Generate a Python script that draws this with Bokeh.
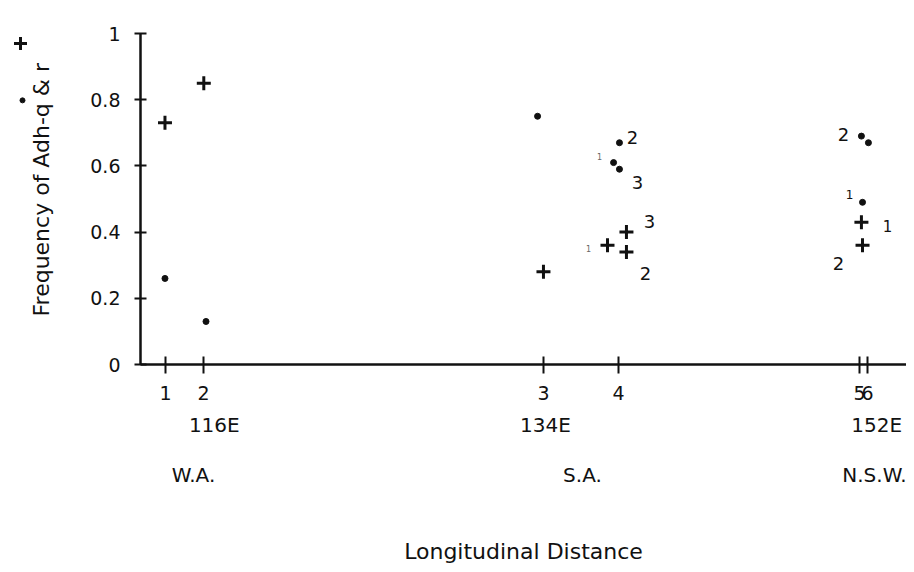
import math
from bokeh.plotting import figure
from bokeh.layouts import row
from bokeh.models import LinearAxis, FixedTicker, Range1d, ColumnDataSource
from bokeh.core.properties import value
from bokeh.embed import file_html
from bokeh.resources import INLINE

# ---------------- data ----------------
# collection sites along the x axis (longitude, degrees E)
site_labels = ["1", "2", "3", "4", "5", "6"]
site_lon = [113.35, 115.41, 133.89, 137.97, 151.07, 151.50]

lon_ticks = [116, 134, 152]
lon_labels = ["116E", "134E", "152E"]

region_lon = [114.87, 136.01, 151.99]
region_labels = ["W.A.", "S.A.", "N.S.W."]

# Adh-q frequencies (dots)
q_lon = [113.32, 115.55, 133.57, 138.02, 137.70, 138.02, 151.17, 151.55, 151.23]
q_freq = [0.26, 0.13, 0.75, 0.67, 0.61, 0.59, 0.69, 0.67, 0.49]
q_tag = ["", "", "", "2", "1", "3", "2", "", "1"]

# Adh-r frequencies (crosses)
r_lon = [113.32, 115.43, 133.89, 138.40, 137.37, 138.40, 151.17, 151.23]
r_freq = [0.73, 0.85, 0.28, 0.40, 0.36, 0.34, 0.43, 0.36]
r_tag = ["", "", "", "3", "1", "2", "1", "2"]

y_ticks = [0, 0.2, 0.4, 0.6, 0.8, 1]
y_tick_labels = ["0", "0.2", "0.4", "0.6", "0.8", "1"]

y_title = "Frequency of Adh-q & r"
x_title = "Longitudinal Distance"

# ---------------- style (tag placement, pixels) ----------------
q_tag_dx = [0, 0, 0, 13, -14, 18, -18, 0, -13]
q_tag_dy = [0, 0, 0, -5, -6, 13, -2, 0, -8]
q_tag_fs = ["17px", "17px", "17px", "18px", "8px", "18px", "18px", "17px", "12px"]
q_tag_col = ["#111", "#111", "#111", "#111", "#666", "#111", "#111", "#111", "#111"]
r_tag_dx = [0, 0, 0, 23, -19, 19, 26, -24]
r_tag_dy = [0, 0, 0, -11, 3, 22, 4, 18]
r_tag_fs = ["17px", "17px", "17px", "18px", "8px", "18px", "15px", "18px"]
r_tag_col = ["#111", "#111", "#111", "#111", "#666", "#111", "#111", "#111"]

FONT = "DejaVu Sans"
INK = "#111111"
H = 566

# ---------------- main plot ----------------
p = figure(width=846, height=H,
           x_range=Range1d(111.99, 153.62), y_range=Range1d(0, 1),
           output_backend="svg", toolbar_location=None, title=None,
           min_border_left=80, min_border_right=0, min_border_top=33,
           min_border_bottom=0)
p.outline_line_color = None
p.grid.visible = False

# ---------------- left strip: y title with its symbol key ----------------
# (frame aligned with the main plot, sharing its y range)
t = figure(width=60, height=H, x_range=Range1d(0, 60), y_range=p.y_range,
           output_backend="svg", toolbar_location=None, title=None,
           x_axis_type=None, y_axis_type=None,
           min_border_left=0, min_border_right=0, min_border_top=33, min_border_bottom=0)
t.outline_line_color = None
t.text(x=[41], y=[0.528], text=[y_title], angle=math.pi / 2,
       text_align="center", text_baseline="middle", text_font=value(FONT),
       text_font_size="22px", text_color=INK)
t.scatter([20], [0.970], marker="cross", size=13, line_color=INK, line_width=3)
t.scatter([22], [0.798], marker="circle", size=5, fill_color=INK, line_color=INK)

# y axis
ya = p.yaxis[0]
ya.ticker = FixedTicker(ticks=y_ticks)
ya.major_label_overrides = dict(zip(y_ticks, y_tick_labels))
ya.major_tick_in = 6
ya.major_tick_out = 6
ya.minor_tick_line_color = None
ya.major_label_standoff = 14
ya.major_label_text_font = FONT
ya.major_label_text_font_size = "19px"
ya.major_label_text_color = INK
ya.axis_line_width = 2.5
ya.axis_line_color = INK
ya.major_tick_line_width = 2
ya.major_tick_line_color = INK

# x axis 1: site numbers
xa = p.xaxis[0]
xa.ticker = FixedTicker(ticks=site_lon)
xa.major_label_overrides = dict(zip(site_lon, site_labels))
xa.major_tick_in = 8
xa.major_tick_out = 9
xa.minor_tick_line_color = None
xa.major_label_standoff = 12
xa.major_label_text_font = FONT
xa.major_label_text_font_size = "19px"
xa.major_label_text_color = INK
xa.axis_line_width = 2.5
xa.axis_line_color = INK
xa.major_tick_line_width = 2
xa.major_tick_line_color = INK

# x axis 2: longitudes; x axis 3: regions + title
xa2 = LinearAxis(ticker=FixedTicker(ticks=lon_ticks),
                 major_label_overrides=dict(zip(lon_ticks, lon_labels)))
xa3 = LinearAxis(ticker=FixedTicker(ticks=region_lon),
                 major_label_overrides=dict(zip(region_lon, region_labels)),
                 axis_label=x_title)
for ax, so in ((xa2, 10), (xa3, 23)):
    ax.axis_line_color = None
    ax.major_tick_line_color = None
    ax.minor_tick_line_color = None
    ax.major_tick_in = 0
    ax.major_tick_out = 0
    ax.minor_tick_in = 0
    ax.minor_tick_out = 0
    ax.major_label_standoff = so
    ax.major_label_text_font = FONT
    ax.major_label_text_font_size = "20px"
    ax.major_label_text_color = INK
xa3.axis_label_text_font = FONT
xa3.axis_label_text_font_size = "22px"
xa3.axis_label_text_font_style = "normal"
xa3.axis_label_text_color = INK
xa3.axis_label_standoff = 49
p.add_layout(xa2, "below")
p.add_layout(xa3, "below")

# data marks
p.scatter(q_lon, q_freq, marker="circle", size=6, fill_color=INK, line_color=INK)
p.scatter(r_lon, r_freq, marker="cross", size=14, line_color=INK, line_width=3)

# tags next to points
def tag_source(xs, ys, tags, dx, dy, fs, col):
    keep = [i for i, tg in enumerate(tags) if tg]
    return ColumnDataSource(dict(
        x=[xs[i] for i in keep], y=[ys[i] for i in keep], t=[tags[i] for i in keep],
        dx=[dx[i] for i in keep], dy=[dy[i] for i in keep],
        fs=[fs[i] for i in keep], c=[col[i] for i in keep]))

for src in (tag_source(q_lon, q_freq, q_tag, q_tag_dx, q_tag_dy, q_tag_fs, q_tag_col),
            tag_source(r_lon, r_freq, r_tag, r_tag_dx, r_tag_dy, r_tag_fs, r_tag_col)):
    p.text(x="x", y="y", text="t", x_offset="dx", y_offset="dy",
           text_font_size="fs", text_color="c", text_align="center",
           text_baseline="middle", text_font=value(FONT), source=src)

layout = row(t, p)
open("out.html", "w").write(file_html(layout, INLINE))
